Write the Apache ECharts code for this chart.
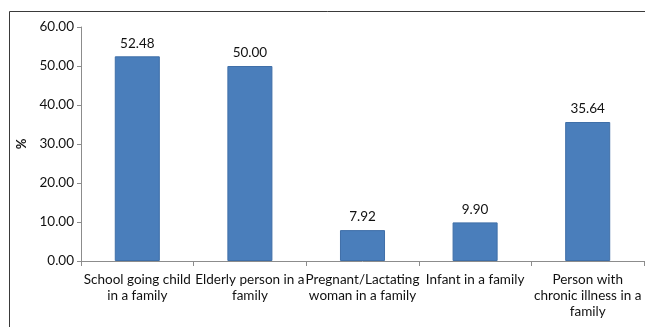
<!DOCTYPE html>
<html>
<head>
<meta charset="utf-8">
<script src="https://cdn.jsdelivr.net/npm/echarts@6/dist/echarts.min.js"></script>
<style>
  html, body { margin: 0; padding: 0; background: #fff; }
  #chart { width: 645px; height: 327px; }
</style>
</head>
<body>
<div id="chart"></div>
<script>
// Share of households with each kind of member (%)
const categories = [
  'School going child\nin a family',
  'Elderly person in a\nfamily',
  'Pregnant/Lactating\nwoman in a family',
  'Infant in a family',
  'Person with\nchronic illness in a\nfamily'
];
const values = [52.48, 50.00, 7.92, 9.90, 35.64];
const yTicks = { min: 0, max: 60, interval: 10 };

const chart = echarts.init(document.getElementById('chart'), null, { renderer: 'canvas' });
const font = 'Lato, "Open Sans", sans-serif';

chart.setOption({
  animation: false,
  backgroundColor: '#ffffff',
  graphic: [{
    type: 'polyline',
    shape: { points: [[9.5, 330], [9.5, 11.5], [650, 11.5]] },
    style: { stroke: '#3a3a3a', lineWidth: 1, fill: null },
    silent: true
  }],
  grid: { left: 81, right: 1, top: 27, bottom: 66, containLabel: false },
  xAxis: {
    type: 'category',
    data: categories,
    axisLine: { lineStyle: { color: '#8c8c8c', width: 1 } },
    axisTick: { show: true, length: 5, alignWithLabel: false, lineStyle: { color: '#8c8c8c' } },
    axisLabel: {
      interval: 0, margin: 11, color: '#111', fontFamily: font, fontSize: 13.5, lineHeight: 16
    }
  },
  yAxis: {
    type: 'value',
    min: yTicks.min, max: yTicks.max, interval: yTicks.interval,
    name: '%',
    nameLocation: 'middle',
    nameRotate: 90,
    nameGap: 52,
    nameTextStyle: { color: '#111', fontFamily: font, fontSize: 13, fontWeight: 'bold' },
    axisLine: { show: true, lineStyle: { color: '#8c8c8c', width: 1 } },
    axisTick: { show: true, length: 4, lineStyle: { color: '#8c8c8c' } },
    splitLine: { show: false },
    axisLabel: {
      margin: 7, color: '#111', fontFamily: font, fontSize: 13.5,
      formatter: v => v.toFixed(2)
    }
  },
  series: [{
    type: 'bar',
    data: values,
    barWidth: '40%',
    itemStyle: { color: '#4a7ebb', borderColor: '#3f6fa8', borderWidth: 1 },
    label: {
      show: true, position: 'top', distance: 6, color: '#111',
      fontFamily: font, fontSize: 13.5,
      formatter: p => p.value.toFixed(2)
    }
  }]
});
</script>
</body>
</html>
